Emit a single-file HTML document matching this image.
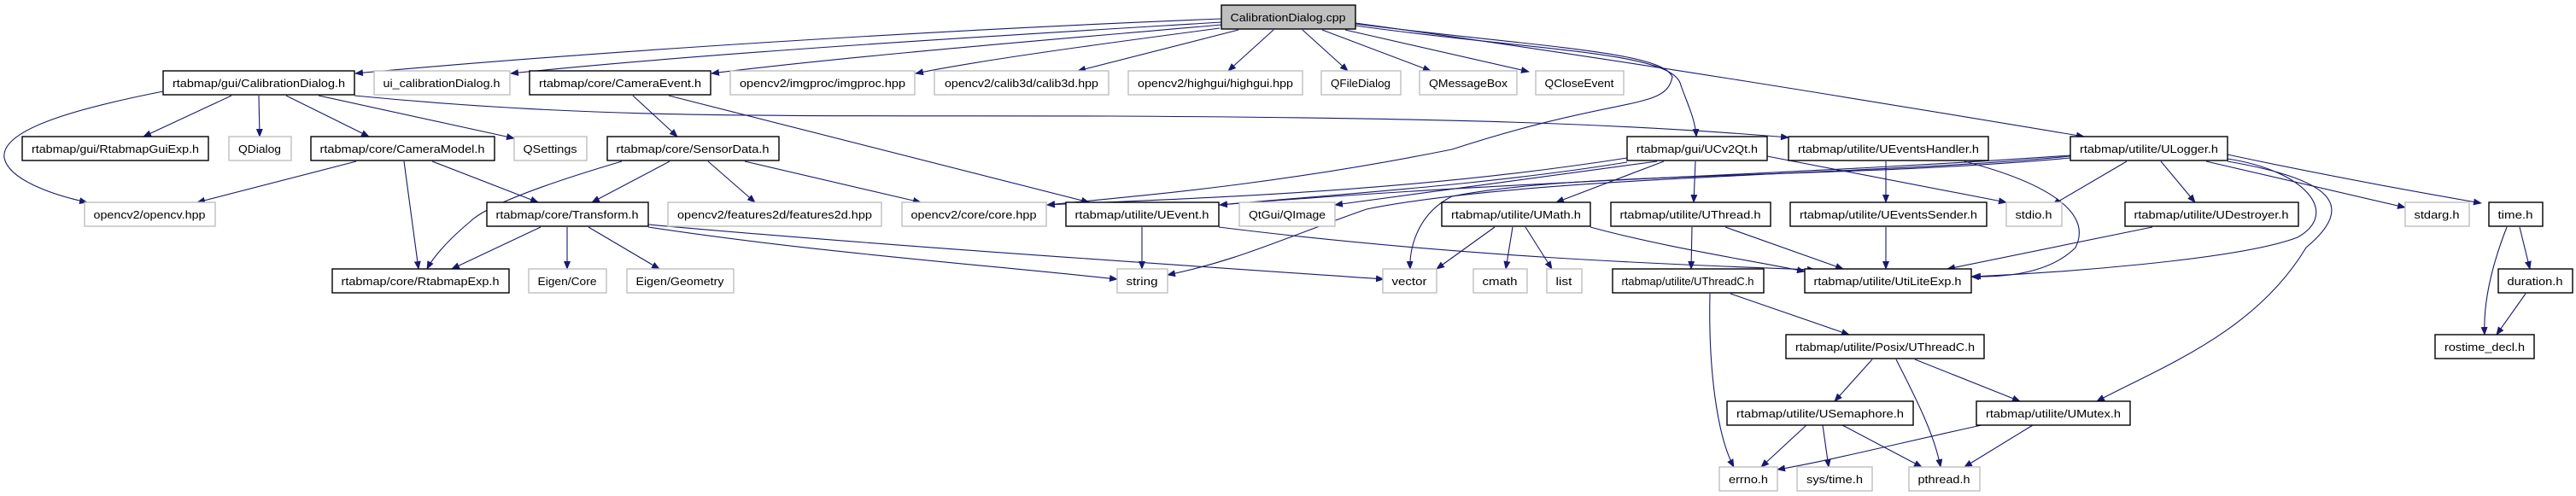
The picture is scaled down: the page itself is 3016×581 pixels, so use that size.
<!DOCTYPE html>
<html><head><meta charset="utf-8"><style>
html,body{margin:0;padding:0;background:#fff;}
svg{display:block;}
text{font-family:"Liberation Sans",sans-serif;font-size:12.5px;fill:#000;}
.b{fill:#fff;stroke:#000;stroke-width:1.4;}
.g{fill:#fff;stroke:#bfbfbf;stroke-width:1.4;}
.e{fill:none;stroke:#191970;stroke-width:1.1;marker-end:url(#a);}
</style></head><body>
<svg width="3016" height="581" viewBox="0 0 3016 581" xmlns="http://www.w3.org/2000/svg">
<defs><marker id="a" markerWidth="10" markerHeight="8" refX="9" refY="4" orient="auto" markerUnits="userSpaceOnUse"><path d="M0,0 L10,4 L0,8 z" fill="#191970"/></marker></defs>

<!-- edges -->
<g>
<path class="e" d="M1430,22 C1100,35 700,60 416,86"/>
<path class="e" d="M1430,26 C1200,40 850,60 598,86"/>
<path class="e" d="M1430,29 C1250,45 1000,65 833,86"/>
<path class="e" d="M1428,33 C1300,50 1150,70 1072,86"/>
<path class="e" d="M1450,35 L1262,83"/>
<path class="e" d="M1491,35 L1438,83"/>
<path class="e" d="M1525,35 L1578,83"/>
<path class="e" d="M1548,35 L1675,83"/>
<path class="e" d="M1575,35 L1790,84"/>
<path class="e" d="M1587,28 C1800,55 1945,60 1958,90 C1950,130 1900,110 1700,175 C1500,215 1350,228 1226,240"/>
<path class="e" d="M1587,30 C1800,60 1960,60 1968,100 C1975,120 1985,140 1986,160"/>
<path class="e" d="M1587,27 C1900,70 2200,120 2440,160"/>
<path class="e" d="M415,112 C700,140 900,135 1300,136 C1700,138 1900,145 2094,161"/>
<path class="e" d="M191,107 C100,125 0,150 5,185 C10,210 60,228 102,237"/>
<path class="e" d="M271,112 L168,160"/>
<path class="e" d="M303,112 L304,160"/>
<path class="e" d="M335,112 L432,160"/>
<path class="e" d="M373,112 L602,162"/>
<path class="e" d="M741,112 L793,160"/>
<path class="e" d="M783,112 L1275,237"/>
<path class="e" d="M417,189 L231,237"/>
<path class="e" d="M473,189 L490,315"/>
<path class="e" d="M506,189 L630,237"/>
<path class="e" d="M728,189 C640,215 570,240 550,260 C520,285 505,305 500,315"/>
<path class="e" d="M784,189 L693,237"/>
<path class="e" d="M829,189 L884,237"/>
<path class="e" d="M872,189 L1078,237"/>
<path class="e" d="M633,266 L529,315"/>
<path class="e" d="M664,266 L664,315"/>
<path class="e" d="M689,266 L772,315"/>
<path class="e" d="M759,266 C950,295 1150,310 1308,327"/>
<path class="e" d="M759,263 C1000,285 1300,305 1620,327"/>
<path class="e" d="M1337,266 L1337,315"/>
<path class="e" d="M1427,266 C1700,300 1950,310 2125,316"/>
<path class="e" d="M1905,185 C1650,225 1400,232 1226,240"/>
<path class="e" d="M1905,190 C1750,215 1600,225 1428,240"/>
<path class="e" d="M1940,189 L1563,240"/>
<path class="e" d="M1948,189 L1822,237"/>
<path class="e" d="M1985,189 L1983,237"/>
<path class="e" d="M2069,183 L2349,237"/>
<path class="e" d="M2424,183 C2200,205 1800,205 1600,245 C1500,280 1450,305 1367,322"/>
<path class="e" d="M2424,185 C2150,210 1850,200 1700,230 C1660,250 1650,290 1651,315"/>
<path class="e" d="M2424,182 C2100,205 1800,210 1428,240"/>
<path class="e" d="M1750,266 L1682,315"/>
<path class="e" d="M1771,266 L1763,315"/>
<path class="e" d="M1786,266 L1817,315"/>
<path class="e" d="M1862,266 C1950,290 2050,305 2113,318"/>
<path class="e" d="M1981,266 L1980,315"/>
<path class="e" d="M2020,266 L2158,315"/>
<path class="e" d="M2208,189 L2208,237"/>
<path class="e" d="M2300,189 C2400,215 2450,250 2430,290 C2400,320 2350,325 2308,324"/>
<path class="e" d="M2208,266 L2208,315"/>
<path class="e" d="M2520,266 L2280,315"/>
<path class="e" d="M2490,189 L2403,240"/>
<path class="e" d="M2530,189 L2570,237"/>
<path class="e" d="M2583,189 L2816,243"/>
<path class="e" d="M2608,181 C2720,205 2830,225 2905,238"/>
<path class="e" d="M2608,186 C2700,200 2740,250 2690,278 C2620,305 2400,320 2310,324"/>
<path class="e" d="M2608,189 C2730,210 2760,240 2700,290 C2640,390 2530,430 2455,470"/>
<path class="e" d="M2950,266 L2962,315"/>
<path class="e" d="M2935,266 C2910,330 2908,370 2909,392"/>
<path class="e" d="M2957,344 L2923,392"/>
<path class="e" d="M2026,344 L2165,392"/>
<path class="e" d="M2002,344 C2000,430 2010,510 2030,547"/>
<path class="e" d="M2192,421 L2148,470"/>
<path class="e" d="M2220,421 C2245,470 2265,510 2272,547"/>
<path class="e" d="M2242,421 L2365,470"/>
<path class="e" d="M2115,498 L2062,547"/>
<path class="e" d="M2134,498 L2141,547"/>
<path class="e" d="M2157,498 L2250,547"/>
<path class="e" d="M2320,498 C2220,520 2140,540 2081,550"/>
<path class="e" d="M2380,498 L2300,547"/>
</g>

<!-- nodes -->
<g>
<rect x="1430" y="6" width="157" height="28" fill="#bfbfbf" stroke="#000" stroke-width="1.4"/><text x="1508" y="25" text-anchor="middle" textLength="135" lengthAdjust="spacingAndGlyphs">CalibrationDialog.cpp</text>

<rect class="b" x="191" y="83" width="224" height="28"/><text x="303" y="102" text-anchor="middle" textLength="202" lengthAdjust="spacingAndGlyphs">rtabmap/gui/CalibrationDialog.h</text>
<rect class="g" x="438" y="83" width="159" height="28"/><text x="517" y="102" text-anchor="middle" textLength="137" lengthAdjust="spacingAndGlyphs">ui_calibrationDialog.h</text>
<rect class="b" x="620" y="83" width="212" height="28"/><text x="726" y="102" text-anchor="middle" textLength="190" lengthAdjust="spacingAndGlyphs">rtabmap/core/CameraEvent.h</text>
<rect class="g" x="855" y="83" width="216" height="28"/><text x="963" y="102" text-anchor="middle" textLength="194" lengthAdjust="spacingAndGlyphs">opencv2/imgproc/imgproc.hpp</text>
<rect class="g" x="1094" y="83" width="204" height="28"/><text x="1196" y="102" text-anchor="middle" textLength="180" lengthAdjust="spacingAndGlyphs">opencv2/calib3d/calib3d.hpp</text>
<rect class="g" x="1321" y="83" width="204" height="28"/><text x="1423" y="102" text-anchor="middle" textLength="182" lengthAdjust="spacingAndGlyphs">opencv2/highgui/highgui.hpp</text>
<rect class="g" x="1547" y="83" width="93" height="28"/><text x="1593" y="102" text-anchor="middle" textLength="70" lengthAdjust="spacingAndGlyphs">QFileDialog</text>
<rect class="g" x="1662" y="83" width="114" height="28"/><text x="1719" y="102" text-anchor="middle" textLength="92" lengthAdjust="spacingAndGlyphs">QMessageBox</text>
<rect class="g" x="1798" y="83" width="103" height="28"/><text x="1849" y="102" text-anchor="middle" textLength="81" lengthAdjust="spacingAndGlyphs">QCloseEvent</text>

<rect class="b" x="26" y="160" width="218" height="28"/><text x="135" y="179" text-anchor="middle" textLength="196" lengthAdjust="spacingAndGlyphs">rtabmap/gui/RtabmapGuiExp.h</text>
<rect class="g" x="268" y="160" width="73" height="28"/><text x="304" y="179" text-anchor="middle" textLength="50" lengthAdjust="spacingAndGlyphs">QDialog</text>
<rect class="b" x="364" y="160" width="215" height="28"/><text x="471" y="179" text-anchor="middle" textLength="193" lengthAdjust="spacingAndGlyphs">rtabmap/core/CameraModel.h</text>
<rect class="g" x="602" y="160" width="85" height="28"/><text x="644" y="179" text-anchor="middle" textLength="63" lengthAdjust="spacingAndGlyphs">QSettings</text>
<rect class="b" x="711" y="160" width="201" height="28"/><text x="811" y="179" text-anchor="middle" textLength="179" lengthAdjust="spacingAndGlyphs">rtabmap/core/SensorData.h</text>
<rect class="b" x="1905" y="160" width="164" height="28"/><text x="1987" y="179" text-anchor="middle" textLength="142" lengthAdjust="spacingAndGlyphs">rtabmap/gui/UCv2Qt.h</text>
<rect class="b" x="2094" y="160" width="234" height="28"/><text x="2211" y="179" text-anchor="middle" textLength="212" lengthAdjust="spacingAndGlyphs">rtabmap/utilite/UEventsHandler.h</text>
<rect class="b" x="2424" y="160" width="184" height="28"/><text x="2516" y="179" text-anchor="middle" textLength="162" lengthAdjust="spacingAndGlyphs">rtabmap/utilite/ULogger.h</text>

<rect class="g" x="99" y="237" width="153" height="28"/><text x="175" y="256" text-anchor="middle" textLength="131" lengthAdjust="spacingAndGlyphs">opencv2/opencv.hpp</text>
<rect class="b" x="570" y="237" width="189" height="28"/><text x="664" y="256" text-anchor="middle" textLength="167" lengthAdjust="spacingAndGlyphs">rtabmap/core/Transform.h</text>
<rect class="g" x="782" y="237" width="250" height="28"/><text x="907" y="256" text-anchor="middle" textLength="228" lengthAdjust="spacingAndGlyphs">opencv2/features2d/features2d.hpp</text>
<rect class="g" x="1056" y="237" width="169" height="28"/><text x="1140" y="256" text-anchor="middle" textLength="147" lengthAdjust="spacingAndGlyphs">opencv2/core/core.hpp</text>
<rect class="b" x="1248" y="237" width="179" height="28"/><text x="1337" y="256" text-anchor="middle" textLength="157" lengthAdjust="spacingAndGlyphs">rtabmap/utilite/UEvent.h</text>
<rect class="g" x="1451" y="237" width="112" height="28"/><text x="1507" y="256" text-anchor="middle" textLength="90" lengthAdjust="spacingAndGlyphs">QtGui/QImage</text>
<rect class="b" x="1688" y="237" width="174" height="28"/><text x="1775" y="256" text-anchor="middle" textLength="152" lengthAdjust="spacingAndGlyphs">rtabmap/utilite/UMath.h</text>
<rect class="b" x="1886" y="237" width="187" height="28"/><text x="1979" y="256" text-anchor="middle" textLength="165" lengthAdjust="spacingAndGlyphs">rtabmap/utilite/UThread.h</text>
<rect class="b" x="2096" y="237" width="230" height="28"/><text x="2211" y="256" text-anchor="middle" textLength="208" lengthAdjust="spacingAndGlyphs">rtabmap/utilite/UEventsSender.h</text>
<rect class="g" x="2349" y="237" width="65" height="28"/><text x="2381" y="256" text-anchor="middle" textLength="43" lengthAdjust="spacingAndGlyphs">stdio.h</text>
<rect class="b" x="2488" y="237" width="203" height="28"/><text x="2589" y="256" text-anchor="middle" textLength="181" lengthAdjust="spacingAndGlyphs">rtabmap/utilite/UDestroyer.h</text>
<rect class="g" x="2816" y="237" width="75" height="28"/><text x="2853" y="256" text-anchor="middle" textLength="53" lengthAdjust="spacingAndGlyphs">stdarg.h</text>
<rect class="b" x="2914" y="237" width="63" height="28"/><text x="2945" y="256" text-anchor="middle" textLength="41" lengthAdjust="spacingAndGlyphs">time.h</text>

<rect class="b" x="389" y="315" width="207" height="28"/><text x="492" y="334" text-anchor="middle" textLength="185" lengthAdjust="spacingAndGlyphs">rtabmap/core/RtabmapExp.h</text>
<rect class="g" x="619" y="315" width="91" height="28"/><text x="664" y="334" text-anchor="middle" textLength="69" lengthAdjust="spacingAndGlyphs">Eigen/Core</text>
<rect class="g" x="734" y="315" width="125" height="28"/><text x="796" y="334" text-anchor="middle" textLength="103" lengthAdjust="spacingAndGlyphs">Eigen/Geometry</text>
<rect class="g" x="1308" y="315" width="59" height="28"/><text x="1337" y="334" text-anchor="middle" textLength="37" lengthAdjust="spacingAndGlyphs">string</text>
<rect class="g" x="1619" y="315" width="63" height="28"/><text x="1650" y="334" text-anchor="middle" textLength="41" lengthAdjust="spacingAndGlyphs">vector</text>
<rect class="g" x="1725" y="315" width="63" height="28"/><text x="1756" y="334" text-anchor="middle" textLength="41" lengthAdjust="spacingAndGlyphs">cmath</text>
<rect class="g" x="1811" y="315" width="41" height="28"/><text x="1831" y="334" text-anchor="middle" textLength="19" lengthAdjust="spacingAndGlyphs">list</text>
<rect class="b" x="1888" y="315" width="177" height="28"/><text x="1976" y="334" text-anchor="middle" textLength="155" lengthAdjust="spacingAndGlyphs">rtabmap/utilite/UThreadC.h</text>
<rect class="b" x="2113" y="315" width="195" height="28"/><text x="2210" y="334" text-anchor="middle" textLength="173" lengthAdjust="spacingAndGlyphs">rtabmap/utilite/UtiLiteExp.h</text>
<rect class="b" x="2925" y="315" width="87" height="28"/><text x="2968" y="334" text-anchor="middle" textLength="65" lengthAdjust="spacingAndGlyphs">duration.h</text>

<rect class="b" x="2091" y="392" width="232" height="28"/><text x="2207" y="411" text-anchor="middle" textLength="210" lengthAdjust="spacingAndGlyphs">rtabmap/utilite/Posix/UThreadC.h</text>
<rect class="b" x="2851" y="392" width="116" height="28"/><text x="2909" y="411" text-anchor="middle" textLength="94" lengthAdjust="spacingAndGlyphs">rostime_decl.h</text>

<rect class="b" x="2022" y="470" width="218" height="28"/><text x="2131" y="489" text-anchor="middle" textLength="196" lengthAdjust="spacingAndGlyphs">rtabmap/utilite/USemaphore.h</text>
<rect class="b" x="2314" y="470" width="180" height="28"/><text x="2404" y="489" text-anchor="middle" textLength="158" lengthAdjust="spacingAndGlyphs">rtabmap/utilite/UMutex.h</text>

<rect class="g" x="2013" y="547" width="68" height="28"/><text x="2047" y="566" text-anchor="middle" textLength="46" lengthAdjust="spacingAndGlyphs">errno.h</text>
<rect class="g" x="2104" y="547" width="88" height="28"/><text x="2148" y="566" text-anchor="middle" textLength="66" lengthAdjust="spacingAndGlyphs">sys/time.h</text>
<rect class="g" x="2235" y="547" width="83" height="28"/><text x="2276" y="566" text-anchor="middle" textLength="61" lengthAdjust="spacingAndGlyphs">pthread.h</text>
</g>
</svg>
</body></html>
